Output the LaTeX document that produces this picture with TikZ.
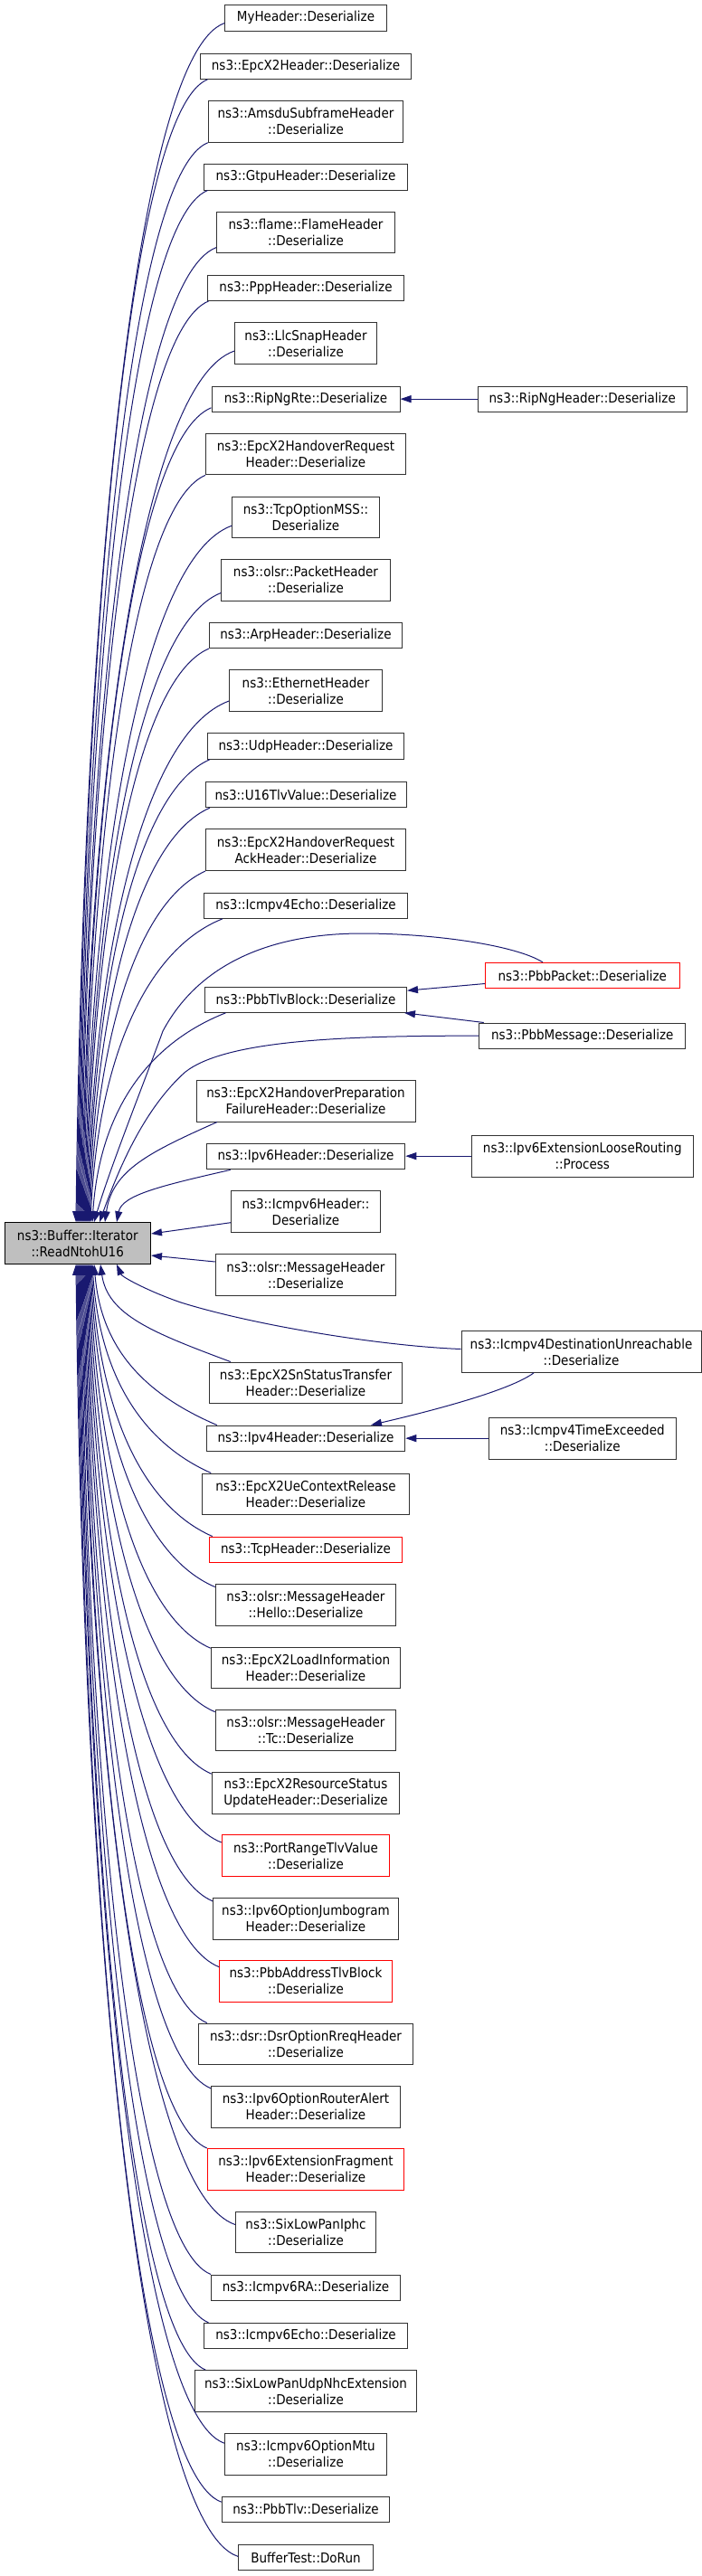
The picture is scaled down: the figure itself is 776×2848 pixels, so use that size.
\documentclass[tikz,border=0pt]{standalone}
\usepackage{fontspec}
\newfontfamily\nodefont{DejaVu Sans}[FakeStretch=0.9]
\usetikzlibrary{arrows.meta,calc}
\definecolor{edgecol}{RGB}{25,25,112}
\definecolor{nodeborder}{RGB}{50,50,50}
\definecolor{bufgray}{RGB}{191,191,191}
\tikzset{
  box/.style={draw=nodeborder, line width=1pt, fill=white, align=center, inner sep=0pt,
    font=\nodefont\fontsize{15pt}{18pt}\selectfont},
  one/.style={minimum height=28.3pt},
  two/.style={minimum height=45.7pt},
  redbox/.style={draw=red},
  link/.style={draw=edgecol, line width=1pt, -{Triangle[length=12pt,width=8pt]}}
}
\newcommand\upedge[2]{%
  \draw[link] let \p1=(#1), \p2=(#2), \n1={\y1-\y2}, \n2={\x1-\x2} in
  (\p1) .. controls ($(\p1)+({-0.6*\n2},{-min(35,0.3*\n1)})$) and ($(\p2)+({min(8,0.1*\n1)},{0.52*\n1})$) .. (\p2);}
\newcommand\downedge[2]{%
  \draw[link] let \p1=(#1), \p2=(#2), \n1={\y2-\y1}, \n2={\x1-\x2} in
  (\p1) .. controls ($(\p1)+({-0.6*\n2},{min(35,0.3*\n1)})$) and ($(\p2)+({min(8,0.1*\n1)},{-0.52*\n1})$) .. (\p2);}
\begin{document}
\begin{tikzpicture}[x=1pt,y=1pt]
\useasboundingbox (0,0) rectangle (776,-2848);
% middle and right column nodes
\node[box,one,minimum width=178.5pt] (myh) at (338,-19.85) {MyHeader::Deserialize};
\node[box,one,minimum width=233pt] (epcx2) at (338,-73.15) {ns3::EpcX2Header::Deserialize};
\node[box,two,minimum width=215.5pt] (amsdu) at (338,-134.35) {ns3::AmsduSubframeHeader\\::Deserialize};
\node[box,one,minimum width=225pt] (gtpu) at (338,-195.85) {ns3::GtpuHeader::Deserialize};
\node[box,two,minimum width=197pt] (flame) at (338,-257) {ns3::flame::FlameHeader\\::Deserialize};
\node[box,one,minimum width=217pt] (ppp) at (338,-318.3) {ns3::PppHeader::Deserialize};
\node[box,two,minimum width=157pt] (llc) at (338,-379.7) {ns3::LlcSnapHeader\\::Deserialize};
\node[box,one,minimum width=208pt] (ripngrte) at (338,-441.15) {ns3::RipNgRte::Deserialize};
\node[box,one,minimum width=230.5pt] (ripnghdr) at (643.75,-441.15) {ns3::RipNgHeader::Deserialize};
\node[box,two,minimum width=221pt] (hoReq) at (338,-502) {ns3::EpcX2HandoverRequest\\Header::Deserialize};
\node[box,two,minimum width=162.5pt] (tcpmss) at (338,-571.85) {ns3::TcpOptionMSS::\\Deserialize};
\node[box,two,minimum width=186.5pt] (olsrpkt) at (338,-641.15) {ns3::olsr::PacketHeader\\::Deserialize};
\node[box,one,minimum width=213.5pt] (arp) at (338,-702.5) {ns3::ArpHeader::Deserialize};
\node[box,two,minimum width=169pt] (eth) at (338,-763.7) {ns3::EthernetHeader\\::Deserialize};
\node[box,one,minimum width=217pt] (udp) at (338,-825) {ns3::UdpHeader::Deserialize};
\node[box,one,minimum width=222pt] (u16) at (338,-878.5) {ns3::U16TlvValue::Deserialize};
\node[box,two,minimum width=221pt] (hoReqAck) at (338,-939.7) {ns3::EpcX2HandoverRequest\\AckHeader::Deserialize};
\node[box,one,minimum width=225pt] (icmp4echo) at (338,-1001.15) {ns3::Icmpv4Echo::Deserialize};
\node[box,one,redbox,minimum width=214.5pt] (pbbpacket) at (643.75,-1078.5) {ns3::PbbPacket::Deserialize};
\node[box,one,minimum width=223pt] (pbbtlvblock) at (338,-1105.15) {ns3::PbbTlvBlock::Deserialize};
\node[box,one,minimum width=228pt] (pbbmsg) at (643.75,-1145.15) {ns3::PbbMessage::Deserialize};
\node[box,two,minimum width=242pt] (hoPrep) at (338,-1217.15) {ns3::EpcX2HandoverPreparation\\FailureHeader::Deserialize};
\node[box,one,minimum width=219.5pt] (ipv6hdr) at (338,-1278.7) {ns3::Ipv6Header::Deserialize};
\node[box,two,minimum width=244.5pt] (looseRouting) at (643.75,-1278.15) {ns3::Ipv6ExtensionLooseRouting\\::Process};
\node[box,two,minimum width=165pt] (icmp6hdr) at (338,-1339.7) {ns3::Icmpv6Header::\\Deserialize};
\node[box,two,fill=bufgray,draw=black,minimum width=161.5pt] (buf) at (85.75,-1374.5) {ns3::Buffer::Iterator\\::ReadNtohU16};
\node[box,two,minimum width=199.5pt] (olsrmsg) at (338,-1409.5) {ns3::olsr::MessageHeader\\::Deserialize};
\node[box,two,minimum width=265pt] (destUnreach) at (642.5,-1494.5) {ns3::Icmpv4DestinationUnreachable\\::Deserialize};
\node[box,two,minimum width=212.5pt] (snStatus) at (338,-1528.85) {ns3::EpcX2SnStatusTransfer\\Header::Deserialize};
\node[box,one,minimum width=219.5pt] (ipv4hdr) at (338,-1590.15) {ns3::Ipv4Header::Deserialize};
\node[box,two,minimum width=207.5pt] (timeExceeded) at (643.75,-1590.15) {ns3::Icmpv4TimeExceeded\\::Deserialize};
\node[box,two,minimum width=228.5pt] (ueCtx) at (338,-1651.85) {ns3::EpcX2UeContextRelease\\Header::Deserialize};
\node[box,one,redbox,minimum width=213.5pt] (tcphdr) at (338,-1713.15) {ns3::TcpHeader::Deserialize};
\node[box,two,minimum width=199.5pt] (hello) at (338,-1774.15) {ns3::olsr::MessageHeader\\::Hello::Deserialize};
\node[box,two,minimum width=209.5pt] (loadInfo) at (338,-1843.85) {ns3::EpcX2LoadInformation\\Header::Deserialize};
\node[box,two,minimum width=199.5pt] (tc) at (338,-1913) {ns3::olsr::MessageHeader\\::Tc::Deserialize};
\node[box,two,minimum width=207.5pt] (resStatus) at (338,-1982.5) {ns3::EpcX2ResourceStatus\\UpdateHeader::Deserialize};
\node[box,two,redbox,minimum width=185.5pt] (portRange) at (338,-2051.7) {ns3::PortRangeTlvValue\\::Deserialize};
\node[box,two,minimum width=205pt] (jumbo) at (338,-2121.15) {ns3::Ipv6OptionJumbogram\\Header::Deserialize};
\node[box,two,redbox,minimum width=190.5pt] (pbbAddrTlv) at (338,-2190.3) {ns3::PbbAddressTlvBlock\\::Deserialize};
\node[box,two,minimum width=237.5pt] (dsr) at (338,-2259.85) {ns3::dsr::DsrOptionRreqHeader\\::Deserialize};
\node[box,two,minimum width=209pt] (routerAlert) at (338,-2329.15) {ns3::Ipv6OptionRouterAlert\\Header::Deserialize};
\node[box,two,redbox,minimum width=217.5pt] (frag) at (338,-2398.3) {ns3::Ipv6ExtensionFragment\\Header::Deserialize};
\node[box,two,minimum width=155pt] (iphc) at (338,-2467.85) {ns3::SixLowPanIphc\\::Deserialize};
\node[box,one,minimum width=209pt] (ra) at (338,-2529.15) {ns3::Icmpv6RA::Deserialize};
\node[box,one,minimum width=225pt] (icmp6echo) at (338,-2582.5) {ns3::Icmpv6Echo::Deserialize};
\node[box,two,minimum width=245.5pt] (udpNhc) at (338,-2643.5) {ns3::SixLowPanUdpNhcExtension\\::Deserialize};
\node[box,two,minimum width=179pt] (mtu) at (338,-2713.15) {ns3::Icmpv6OptionMtu\\::Deserialize};
\node[box,one,minimum width=185.5pt] (pbbtlv) at (338,-2774.15) {ns3::PbbTlv::Deserialize};
\node[box,one,minimum width=148.5pt] (doRun) at (338,-2827.65) {BufferTest::DoRun};
% edges above the buffer node
\upedge{[yshift=9pt]myh.south west}{[xshift=-1.75pt]buf.north}
\upedge{[xshift=8.5pt]epcx2.south west}{[xshift=-0.75pt]buf.north}
\upedge{amsdu.south west}{[xshift=0.25pt]buf.north}
\upedge{[xshift=4.5pt]gtpu.south west}{[xshift=1.25pt]buf.north}
\upedge{[yshift=6.7pt]flame.south west}{[xshift=2.25pt]buf.north}
\upedge{[xshift=1.5pt]ppp.south west}{[xshift=3.25pt]buf.north}
\upedge{[yshift=15pt]llc.south west}{[xshift=4.25pt]buf.north}
\upedge{[yshift=5pt]ripngrte.south west}{[xshift=5.25pt]buf.north}
\upedge{hoReq.south west}{[xshift=6.25pt]buf.north}
\upedge{[yshift=14pt]tcpmss.south west}{[xshift=7.25pt]buf.north}
\upedge{[yshift=9pt]olsrpkt.south west}{[xshift=8.25pt]buf.north}
\upedge{arp.south west}{[xshift=9.25pt]buf.north}
\upedge{[yshift=12pt]eth.south west}{[xshift=10.25pt]buf.north}
\upedge{[xshift=3pt]udp.south west}{[xshift=11.25pt]buf.north}
\upedge{[xshift=5.5pt]u16.south west}{[xshift=12.25pt]buf.north}
\upedge{hoReqAck.south west}{[xshift=13.25pt]buf.north}
\upedge{[xshift=21pt]icmp4echo.south west}{[xshift=14.25pt]buf.north}
\upedge{[xshift=23.5pt]pbbtlvblock.south west}{[xshift=16.25pt]buf.north}
\upedge{[xshift=23.5pt]hoPrep.south west}{[xshift=30.25pt]buf.north}
\upedge{[xshift=27pt]ipv6hdr.south west}{[xshift=43.25pt]buf.north}
\draw[link] ([xshift=-43.75pt]pbbpacket.north) .. controls (570,-1045) and (480,-1032) .. (400,-1032)
  .. controls (300,-1032) and (220,-1065) .. (180,-1140)
  .. controls (160,-1195) and (122,-1290) .. ([xshift=18.25pt]buf.north);
\draw[link] (pbbmsg.west) .. controls (380,-1145) and (250,-1150) .. (205,-1185)
  .. controls (160,-1225) and (132,-1290) .. ([xshift=24.25pt]buf.north);
% edges to the right side of the buffer node
\draw[link] ([yshift=-12pt]icmp6hdr.west) -- ([yshift=10.5pt]buf.east);
\draw[link] ([yshift=14.5pt]olsrmsg.west) -- ([yshift=-13.5pt]buf.east);
% edges below the buffer node
\draw[link] ([yshift=3pt]destUnreach.west) .. controls (420,-1488) and (280,-1465) .. (200,-1440)
  .. controls (165,-1428) and (135,-1412) .. ([xshift=43.25pt]buf.south);
\downedge{[xshift=23.5pt]snStatus.north west}{[xshift=25.25pt]buf.south}
\downedge{[xshift=12pt]ipv4hdr.north west}{[xshift=18.25pt]buf.south}
\downedge{[xshift=10pt]ueCtx.north west}{[xshift=16.25pt]buf.south}
\downedge{[xshift=4pt]tcphdr.north west}{[xshift=15.25pt]buf.south}
\downedge{[yshift=-3.7pt]hello.north west}{[xshift=14.25pt]buf.south}
\downedge{[yshift=-1.7pt]loadInfo.north west}{[xshift=13.25pt]buf.south}
\downedge{[yshift=-3pt]tc.north west}{[xshift=12.25pt]buf.south}
\downedge{[yshift=-2pt]resStatus.north west}{[xshift=11.25pt]buf.south}
\downedge{[yshift=-8.6pt]portRange.north west}{[xshift=10.25pt]buf.south}
\downedge{[yshift=-4pt]jumbo.north west}{[xshift=9.25pt]buf.south}
\downedge{[yshift=-7.7pt]pbbAddrTlv.north west}{[xshift=8.25pt]buf.south}
\downedge{[xshift=10pt]dsr.north west}{[xshift=7.25pt]buf.south}
\downedge{[yshift=-3pt]routerAlert.north west}{[xshift=6.25pt]buf.south}
\downedge{frag.north west}{[xshift=5.25pt]buf.south}
\downedge{[yshift=-15pt]iphc.north west}{[xshift=4.25pt]buf.south}
\downedge{ra.north west}{[xshift=3.25pt]buf.south}
\downedge{[xshift=5.5pt]icmp6echo.north west}{[xshift=2.25pt]buf.south}
\downedge{[xshift=12.5pt]udpNhc.north west}{[xshift=1.25pt]buf.south}
\downedge{[yshift=-11.4pt]mtu.north west}{[xshift=0.25pt]buf.south}
\downedge{[yshift=-6.7pt]pbbtlv.north west}{[xshift=-0.75pt]buf.south}
\downedge{[yshift=-13.4pt]doRun.north west}{[xshift=-1.75pt]buf.south}
% edges between callers
\draw[link] (ripnghdr.west) -- (ripngrte.east);
\draw[link] ([yshift=-9pt]pbbpacket.west) -- ([yshift=10pt]pbbtlvblock.east);
\draw[link] ([xshift=5.5pt]pbbmsg.north west) -- ([xshift=-3pt]pbbtlvblock.south east);
\draw[link] (looseRouting.west) -- (looseRouting.west -| ipv6hdr.east);
\draw[link] ([xshift=-52.5pt]destUnreach.south) .. controls (560,-1540) and (455,-1565) .. ([xshift=72pt]ipv4hdr.north);
\draw[link] (timeExceeded.west) -- (ipv4hdr.east);
\end{tikzpicture}
\end{document}
